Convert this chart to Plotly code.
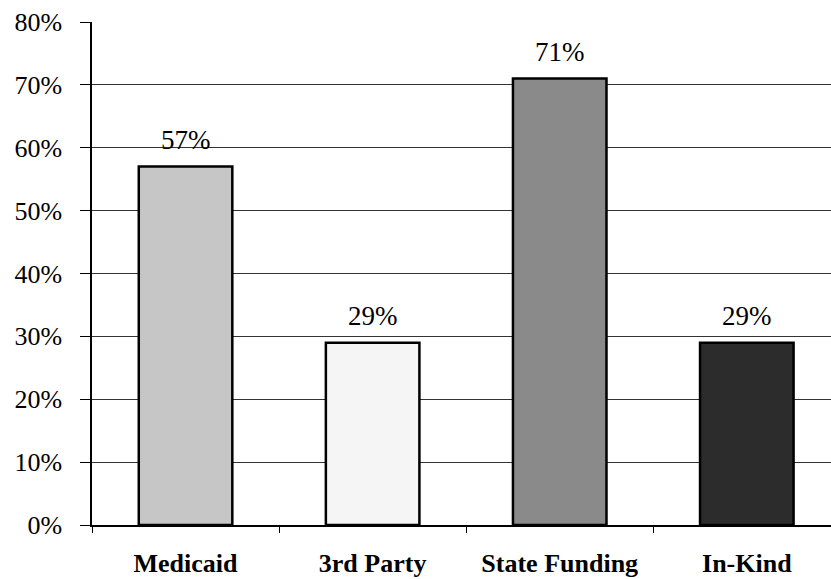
import plotly.graph_objects as go

categories = ["Medicaid", "3rd Party", "State Funding", "In-Kind"]
values = [57, 29, 71, 29]
labels = ["57%", "29%", "71%", "29%"]
colors = ["#c6c6c6", "#f5f5f5", "#8a8a8a", "#2c2c2c"]
y_ticks = [0, 10, 20, 30, 40, 50, 60, 70, 80]
y_tick_text = ["0%", "10%", "20%", "30%", "40%", "50%", "60%", "70%", "80%"]

SERIF = "Liberation Serif, Times New Roman, serif"

fig = go.Figure()
fig.add_trace(go.Bar(
    x=categories, y=values, width=0.5,
    marker=dict(color=colors, line=dict(color="black", width=2.5)),
    hoverinfo="skip",
))

for c, v, t in zip(categories, values, labels):
    fig.add_annotation(x=c, y=v, text=t, showarrow=False, yanchor="bottom",
                       yshift=10, font=dict(family=SERIF, size=27, color="black"))

fig.update_layout(
    width=831, height=579,
    margin=dict(l=92, r=0, t=22, b=54, autoexpand=False),
    paper_bgcolor="white", plot_bgcolor="white",
    showlegend=False,
    font=dict(family=SERIF, color="black"),
    xaxis=dict(
        range=[-0.5, 3.45],
        showline=True, linecolor="black", linewidth=2,
        ticks="outside", tickson="boundaries", ticklen=6, tickcolor="black",
        tickfont=dict(family=SERIF, size=26, color="black", weight="bold"),
        ticklabelstandoff=14,
        showgrid=False, automargin=False,
    ),
    yaxis=dict(
        range=[0, 80],
        tickvals=y_ticks, ticktext=y_tick_text,
        showline=True, linecolor="black", linewidth=1.5,
        ticks="outside", ticklen=10, tickcolor="black",
        tickfont=dict(family=SERIF, size=26, color="black"),
        ticklabelstandoff=13,
        showgrid=True, gridcolor="#333333", gridwidth=1,
        zeroline=False, automargin=False,
    ),
)

fig.write_html("out.html", config={"displayModeBar": False},
               post_script="document.body.style.margin='0';")
